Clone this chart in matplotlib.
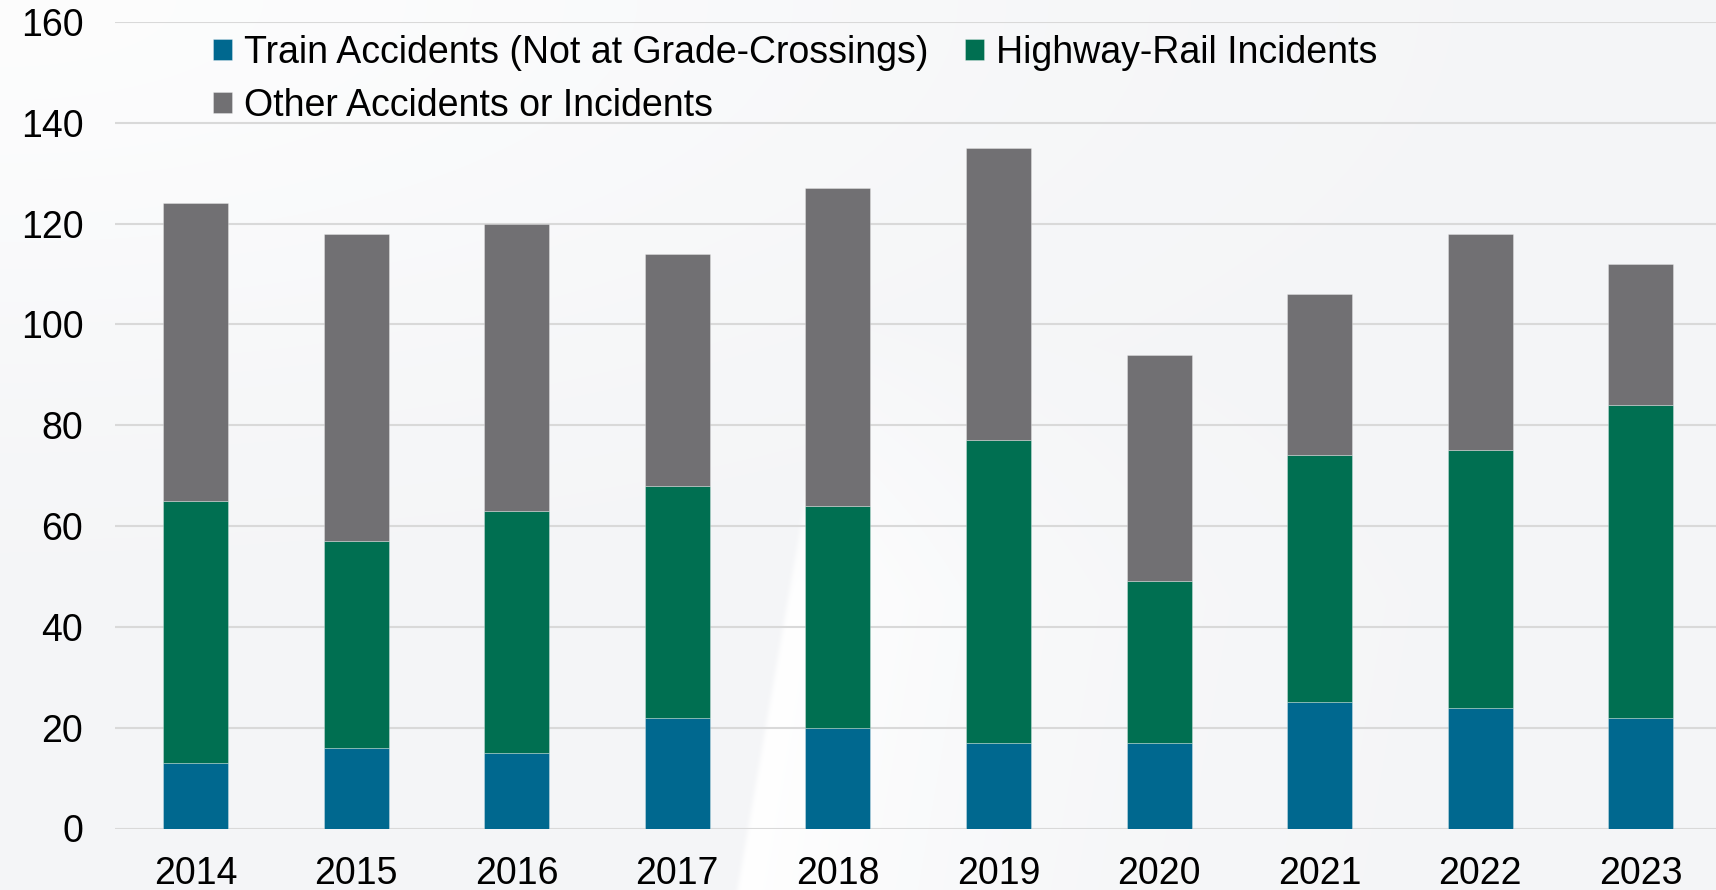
import numpy as np
import matplotlib
matplotlib.use("Agg")
import matplotlib.pyplot as plt

years = ["2014", "2015", "2016", "2017", "2018", "2019", "2020", "2021", "2022", "2023"]
train_accidents = [13, 16, 15, 22, 20, 17, 17, 25, 24, 22]
highway_rail = [52, 41, 48, 46, 44, 60, 32, 49, 51, 62]
other = [59, 61, 57, 46, 63, 58, 45, 32, 43, 28]
y_ticks = [0, 20, 40, 60, 80, 100, 120, 140, 160]
series_names = ["Train Accidents (Not at Grade-Crossings)", "Highway-Rail Incidents",
                "Other Accidents or Incidents"]

C_BLUE = "#00688f"
C_GREEN = "#006f51"
C_GRAY = "#717073"

plt.rcParams['font.family'] = ['Liberation Sans', 'DejaVu Sans']

W, H = 1716, 890
fig = plt.figure(figsize=(W / 100, H / 100), dpi=100)

# background
yy, xx = np.mgrid[0:H, 0:W].astype(float)
base = np.array([244, 245, 247], float) / 255
white = np.ones(3)
hl = np.exp(-((xx / 1000) ** 2 + (yy / 380) ** 2)) * 0.75
line_x = 737 + (yy - 890) * (-0.174)
d = xx - line_x
edge = 1 / (1 + np.exp(-d / 1.5))
wedge = edge * np.exp(-np.clip(d, 0, None) / 260) * np.clip((yy - 250) / 350, 0, 1)
w = np.clip(np.maximum(hl, wedge), 0, 1)
img = base[None, None, :] * (1 - w[..., None]) + white[None, None, :] * w[..., None]
bg = fig.add_axes([0, 0, 1, 1], zorder=-10)
bg.imshow(img, aspect='auto', extent=[0, 1, 0, 1], interpolation='bilinear')
bg.axis('off')

ax_left = 115.2 / W
ax_w = 160.6 * 10 / W
ax_bottom = (H - 828.5) / H
ax_h = (828.5 - 21.9) / H
ax = fig.add_axes([ax_left, ax_bottom, ax_w, ax_h])
ax.patch.set_alpha(0)

x = np.arange(len(years))
bw = 0.404
ek = dict(edgecolor=(1, 1, 1, 0.35), linewidth=0.6)
b1 = ax.bar(x, train_accidents, bw, color=C_BLUE, label=series_names[0], zorder=3, **ek)
b2 = ax.bar(x, highway_rail, bw, bottom=train_accidents, color=C_GREEN, label=series_names[1], zorder=3, **ek)
bottom2 = [a + b for a, b in zip(train_accidents, highway_rail)]
b3 = ax.bar(x, other, bw, bottom=bottom2, color=C_GRAY, label=series_names[2], zorder=3, **ek)

ax.set_xlim(-0.5, len(years) - 0.5)
ax.set_ylim(0, 160)
ax.set_yticks(y_ticks)
ax.set_xticks(x)
ax.set_xticklabels(years)
ax.tick_params(axis='y', length=0, pad=23, labelsize=27, labelcolor='black')
ax.tick_params(axis='x', length=0, pad=20, labelsize=27, labelcolor='black')
ax.grid(axis='y', color='#d9d9d9', linewidth=1.5, zorder=0)
for s in ax.spines.values():
    s.set_visible(False)

leg = fig.legend([b1, b3, b2], [series_names[0], series_names[2], series_names[1]],
                 ncol=2, loc='upper left', bbox_to_anchor=(213 / W, 1 - 35 / H),
                 bbox_transform=fig.transFigure, frameon=False, fontsize=27,
                 handlelength=0.5, handleheight=0.5, handletextpad=0.33,
                 columnspacing=0.98, labelspacing=0.44, borderpad=0, borderaxespad=0)

fig.savefig("out.png", dpi=100)
